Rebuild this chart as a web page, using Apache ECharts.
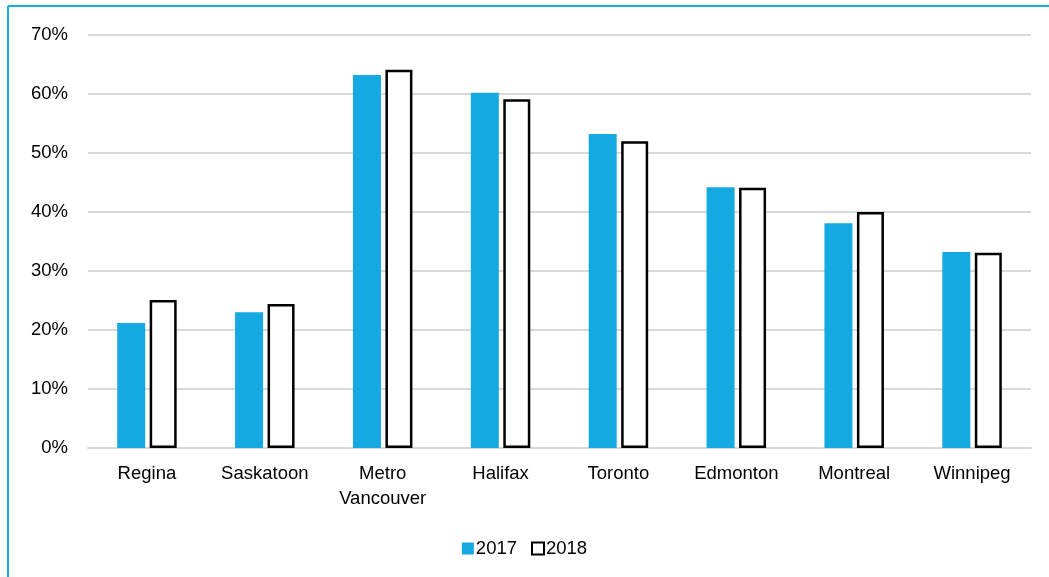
<!DOCTYPE html>
<html>
<head>
<meta charset="utf-8">
<script src="https://cdn.jsdelivr.net/npm/echarts@6/dist/echarts.min.js"></script>
<style>
html,body{margin:0;padding:0;background:#fff;}
#c{width:1049px;height:577px;}
</style>
</head>
<body>
<div id="c"></div>
<script>
const categories = ['Regina', 'Saskatoon', 'Metro\nVancouver', 'Halifax', 'Toronto', 'Edmonton', 'Montreal', 'Winnipeg'];
const values2017 = [21.2, 23.0, 63.2, 60.2, 53.2, 44.2, 38.1, 33.2];
const values2018 = [25.1, 24.4, 64.1, 59.1, 52.0, 44.1, 40.0, 33.1];
const seriesNames = ['2017', '2018'];

const chart = echarts.init(document.getElementById('c'), null, {renderer: 'canvas'});
const font = 'Liberation Sans, Arial, sans-serif';
chart.setOption({
  animation: false,
  backgroundColor: '#fff',
  textStyle: {fontFamily: font},
  graphic: [
    {type: 'line', shape: {x1: 8, y1: 6, x2: 1049, y2: 6}, style: {stroke: '#1AADE4', lineWidth: 2}},
    {type: 'line', shape: {x1: 8, y1: 6, x2: 8, y2: 577}, style: {stroke: '#1AADE4', lineWidth: 2}}
  ],
  grid: {left: 88, right: 18, top: 35, bottom: 129},
  legend: {
    data: [
      {name: seriesNames[0], icon: 'rect'},
      {name: seriesNames[1], icon: 'rect', itemStyle: {color: '#fff', borderColor: '#000', borderWidth: 2}}
    ],
    bottom: 14, left: 'center',
    itemWidth: 12, itemHeight: 12, itemGap: 14,
    textStyle: {fontSize: 18.5, color: '#000', fontFamily: font, padding: [0, 0, 0, -3]}
  },
  xAxis: {
    type: 'category',
    data: categories,
    axisLine: {lineStyle: {color: '#d9d9d9', width: 2}},
    axisTick: {show: false},
    axisLabel: {fontSize: 18.5, color: '#000', fontFamily: font, margin: 13, lineHeight: 25, interval: 0}
  },
  yAxis: {
    type: 'value',
    min: 0, max: 70, interval: 10,
    axisLabel: {formatter: '{value}%', fontSize: 18.5, color: '#000', fontFamily: font, margin: 20},
    splitLine: {lineStyle: {color: '#d9d9d9', width: 2}},
    axisLine: {show: false},
    axisTick: {show: false}
  },
  series: [
    {name: seriesNames[0], type: 'bar', data: values2017, barWidth: 28, barGap: '16%',
     itemStyle: {color: '#15A9E1'}},
    {name: seriesNames[1], type: 'bar', data: values2018, barWidth: 27,
     itemStyle: {color: '#fff', borderColor: '#000', borderWidth: 2.5}}
  ]
});
</script>
</body>
</html>
